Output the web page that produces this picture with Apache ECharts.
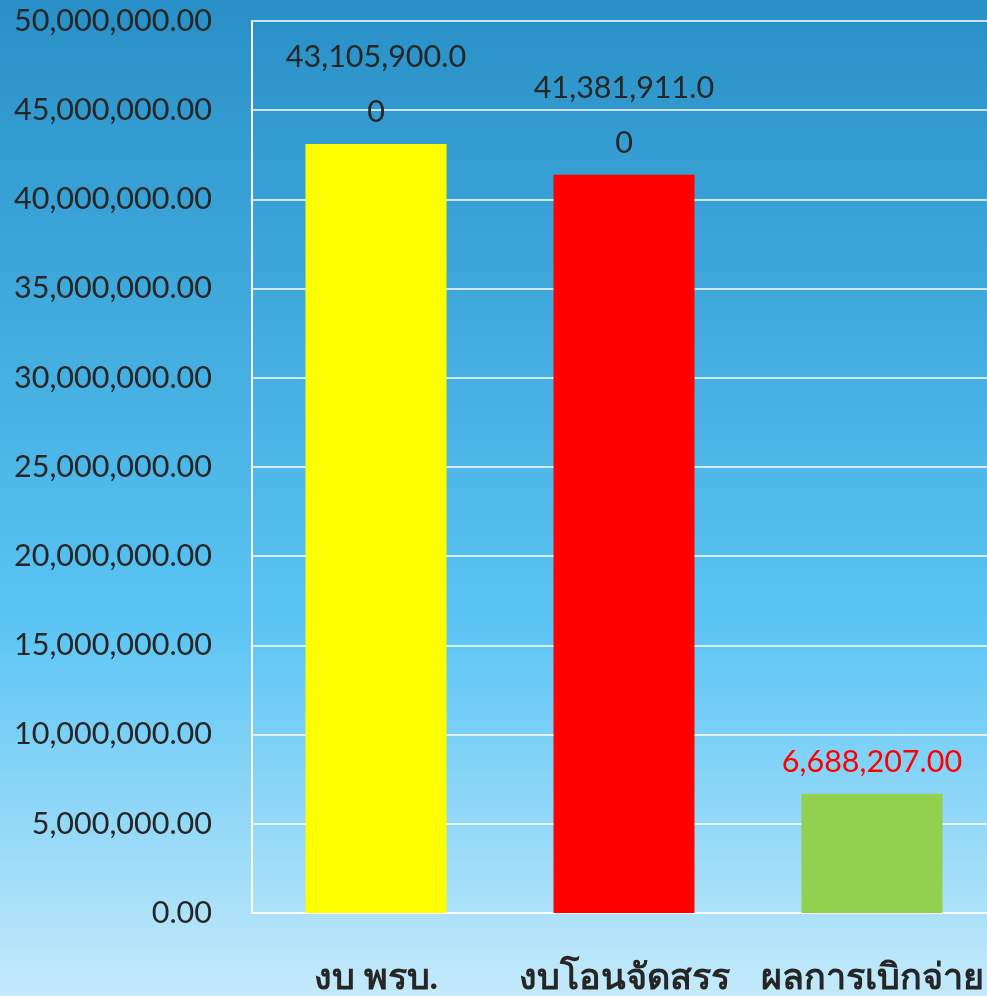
<!DOCTYPE html>
<html>
<head>
<meta charset="utf-8">
<script src="https://cdn.jsdelivr.net/npm/echarts@6/dist/echarts.min.js"></script>
<style>
  html, body { margin: 0; padding: 0; }
  #chart { width: 987px; height: 996px; }
</style>
</head>
<body>
<div id="chart"></div>
<script>
// data
var categories = ['งบ พรบ.', 'งบโอนจัดสรร', 'ผลการเบิกจ่าย'];
var values = [43105900, 41381911, 6688207];
var barColors = ['#ffff00', '#ff0000', '#92d050'];
var labelColors = ['#262626', '#262626', '#ff0000'];
var yTicks = { min: 0, max: 50000000, interval: 5000000 };

function fmt(v) {
    return v.toLocaleString('en-US', { minimumFractionDigits: 2, maximumFractionDigits: 2 });
}

var chart = echarts.init(document.getElementById('chart'));

var option = {
    backgroundColor: {
        type: 'linear', x: 0, y: 0, x2: 0, y2: 1,
        colorStops: [
            { offset: 0, color: '#2890c6' },
            { offset: 0.62, color: '#5ac4f4' },
            { offset: 1, color: '#c4eafb' }
        ]
    },
    textStyle: { fontFamily: 'Lato, "Noto Sans", sans-serif' },
    grid: {
        left: 252, top: 21, width: 744, bottom: 83,
        containLabel: false, outerBoundsMode: 'none'
    },
    xAxis: {
        type: 'category',
        data: categories,
        axisLine: { lineStyle: { color: '#ffffff', width: 2 } },
        axisTick: { show: false },
        axisLabel: { color: '#262626', fontSize: 36, fontWeight: 'bold', margin: 46, interval: 0 }
    },
    yAxis: {
        type: 'value',
        min: yTicks.min,
        max: yTicks.max,
        interval: yTicks.interval,
        axisLine: { show: true, lineStyle: { color: '#ffffff', width: 2 } },
        axisTick: { show: false },
        splitLine: { lineStyle: { color: '#ffffff', width: 1.5 } },
        axisLabel: {
            color: '#262626', fontSize: 30.5, margin: 40, formatter: fmt,
            padding: [7, 0, 0, 0]
        }
    },
    series: [{
        type: 'bar',
        barWidth: 141,
        data: values.map(function (v, i) {
            var txt = fmt(v);
            if (i < 2) txt = txt.slice(0, -1) + '\n' + txt.slice(-1);
            return {
                value: v,
                itemStyle: { color: barColors[i] },
                label: { formatter: txt, color: labelColors[i], lineHeight: 55 }
            };
        }),
        label: {
            show: true,
            position: 'top',
            distance: 4,
            fontSize: 30.5
        }
    }]
};

chart.setOption(option);
</script>
</body>
</html>
